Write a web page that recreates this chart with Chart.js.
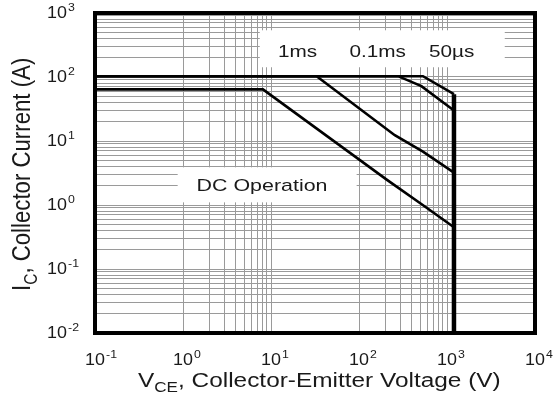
<!DOCTYPE html>
<html>
<head>
<meta charset="utf-8">
<script src="https://cdn.jsdelivr.net/npm/chart.js@4"></script>
<style>
  html, body { margin: 0; padding: 0; background: #fff; }
  canvas { display: block; }
</style>
</head>
<body>
<canvas id="soa" width="556" height="397"></canvas>
<script>
// safe operating area
const dcVoltage = [0.1, 8.1, 210, 530, 1200];
const dcCurrent = [64, 64, 2.45, 1.0, 0.45];

const ms1Voltage = [0.1, 33, 255, 533, 1200];
const ms1Current = [103, 103, 12.3, 6.8, 3.2];

const ms01Voltage = [0.1, 278, 512, 1200];
const ms01Current = [103, 103, 72, 30];

const us50Voltage = [0.1, 533, 1200];
const us50Current = [103, 103, 54];

const limitVoltage = [1200, 1200];
const limitCurrent = [54, 0.01];

const xTickValues = [0.1, 1, 10, 100, 1000, 10000];
const xTickExps = ['-1', '0', '1', '2', '3', '4'];
const yTickValues = [0.01, 0.1, 1, 10, 100, 1000];
const yTickExps = ['-2', '-1', '0', '1', '2', '3'];

// vertical grid only in two decades, like the datasheet
const xGridValues = [0.1, 1, 2, 3, 4, 5, 6, 7, 8, 9, 10, 100, 200, 300, 400, 500, 600, 700, 800, 900, 1000, 10000];
const yGridValues = [];
for (const d of [0.01, 0.1, 1, 10, 100]) {
  for (let k = 1; k < 10; k++) yGridValues.push(+(d * k).toPrecision(2));
}
yGridValues.push(1000);

const pulseLabels = ['1ms', '0.1ms', '50µs'];
const pulseLabelX = [20, 163, 1130];

const FONT = '"Liberation Sans", Arial, sans-serif';
const INK = '#1a1a1a';

// white boxes behind the labels (data coords)
const labelBoxes = [
  { x0: 7.45, x1: 4530, y0: 142, y1: 537 },
  { x0: 0.87, x1: 94, y0: 1.1, y1: 3.88 },
];

const pts = (xs, ys) => xs.map((v, i) => ({ x: v, y: ys[i] }));

function line(label, data, width) {
  return {
    label, data,
    borderColor: '#000', borderWidth: width,
    pointRadius: 0, tension: 0, fill: false,
  };
}

function scaledText(ctx, str, x, y, font, sx, align) {
  ctx.save();
  ctx.translate(x, y);
  ctx.scale(sx, 1);
  ctx.font = font;
  ctx.textAlign = align || 'center';
  ctx.textBaseline = 'alphabetic';
  ctx.fillText(str, 0, 0);
  ctx.restore();
}

// "10" with a raised exponent, stretched a bit wider like the scan
function powerLabel(ctx, exp, x, y, centred) {
  ctx.save();
  ctx.font = '16px ' + FONT;
  const w = ctx.measureText('10').width * 1.12;
  ctx.translate(centred ? x - w / 2 : x, y);
  ctx.scale(1.12, 1);
  ctx.textAlign = 'left';
  ctx.textBaseline = 'alphabetic';
  ctx.fillText('10', 0, 0);
  const w0 = ctx.measureText('10').width;
  ctx.font = '11px ' + FONT;
  ctx.fillText(exp, w0 + 1, -7);
  ctx.restore();
}

const decor = {
  id: 'decor',
  beforeDatasetsDraw(chart) {
    const { ctx, scales: { x, y } } = chart;
    ctx.save();
    ctx.fillStyle = '#fff';
    for (const b of labelBoxes) {
      const l = x.getPixelForValue(b.x0), r = x.getPixelForValue(b.x1);
      const t = y.getPixelForValue(b.y1), btm = y.getPixelForValue(b.y0);
      ctx.fillRect(l, t, r - l, btm - t);
    }
    ctx.restore();
  },
  afterDatasetsDraw(chart) {
    const { ctx, chartArea: a, scales: { x, y } } = chart;
    ctx.save();
    ctx.strokeStyle = '#000';
    ctx.lineWidth = 4;
    ctx.strokeRect(a.left, a.top, a.right - a.left, a.bottom - a.top);

    ctx.fillStyle = INK;
    const topBase = y.getPixelForValue(205);
    pulseLabels.forEach((s, i) => {
      scaledText(ctx, s, x.getPixelForValue(pulseLabelX[i]), topBase, '17px ' + FONT, 1.22);
    });
    scaledText(ctx, 'DC Operation', x.getPixelForValue(7.9), y.getPixelForValue(1.66), '17px ' + FONT, 1.26);

    xTickValues.forEach((v, i) => powerLabel(ctx, xTickExps[i], x.getPixelForValue(v), 365, true));
    yTickValues.forEach((v, i) => powerLabel(ctx, yTickExps[i], 47, y.getPixelForValue(v) + 5, false));

    // x axis title: V_CE, Collector-Emitter Voltage (V)
    ctx.save();
    ctx.translate(138, 387);
    ctx.scale(1.22, 1);
    ctx.font = '20px ' + FONT;
    ctx.fillText('V', 0, 0);
    let cx = ctx.measureText('V').width;
    ctx.font = '14px ' + FONT;
    ctx.fillText('CE', cx, 5);
    cx += ctx.measureText('CE').width;
    ctx.font = '20px ' + FONT;
    ctx.fillText(', Collector-Emitter Voltage (V)', cx, 0);
    ctx.restore();

    // y axis title: I_C, Collector Current (A)
    ctx.save();
    ctx.translate(30, 291);
    ctx.scale(1.3, 1.11);
    ctx.rotate(-Math.PI / 2);
    ctx.font = '20px ' + FONT;
    ctx.fillText('I', 0, 0);
    let cy = ctx.measureText('I').width;
    ctx.font = '14px ' + FONT;
    ctx.fillText('C', cy, 5);
    cy += ctx.measureText('C').width;
    ctx.font = '20px ' + FONT;
    ctx.fillText(', Collector Current (A)', cy, 0);
    ctx.restore();

    ctx.restore();
  },
};

new Chart(document.getElementById('soa'), {
  type: 'line',
  data: {
    datasets: [
      line('DC', pts(dcVoltage, dcCurrent), 2.6),
      line('1ms', pts(ms1Voltage, ms1Current), 2.6),
      line('0.1ms', pts(ms01Voltage, ms01Current), 2.6),
      line('50us', pts(us50Voltage, us50Current), 2.6),
      line('Vces', pts(limitVoltage, limitCurrent), 4.5),
    ],
  },
  options: {
    responsive: false,
    devicePixelRatio: 1,
    animation: false,
    layout: { padding: { left: 95, right: 21, top: 13, bottom: 64 } },
    plugins: { legend: { display: false }, tooltip: { enabled: false } },
    scales: {
      x: {
        type: 'logarithmic', min: 0.1, max: 10000,
        afterBuildTicks: (s) => { s.ticks = xGridValues.map((v) => ({ value: v })); },
        ticks: { display: false },
        grid: { color: '#9a9a9a', lineWidth: 1, drawTicks: false },
        border: { display: false },
      },
      y: {
        type: 'logarithmic', min: 0.01, max: 1000,
        afterBuildTicks: (s) => { s.ticks = yGridValues.map((v) => ({ value: v })); },
        ticks: { display: false },
        grid: { color: '#9a9a9a', lineWidth: 1, drawTicks: false },
        border: { display: false },
      },
    },
  },
  plugins: [decor],
});
</script>
</body>
</html>
